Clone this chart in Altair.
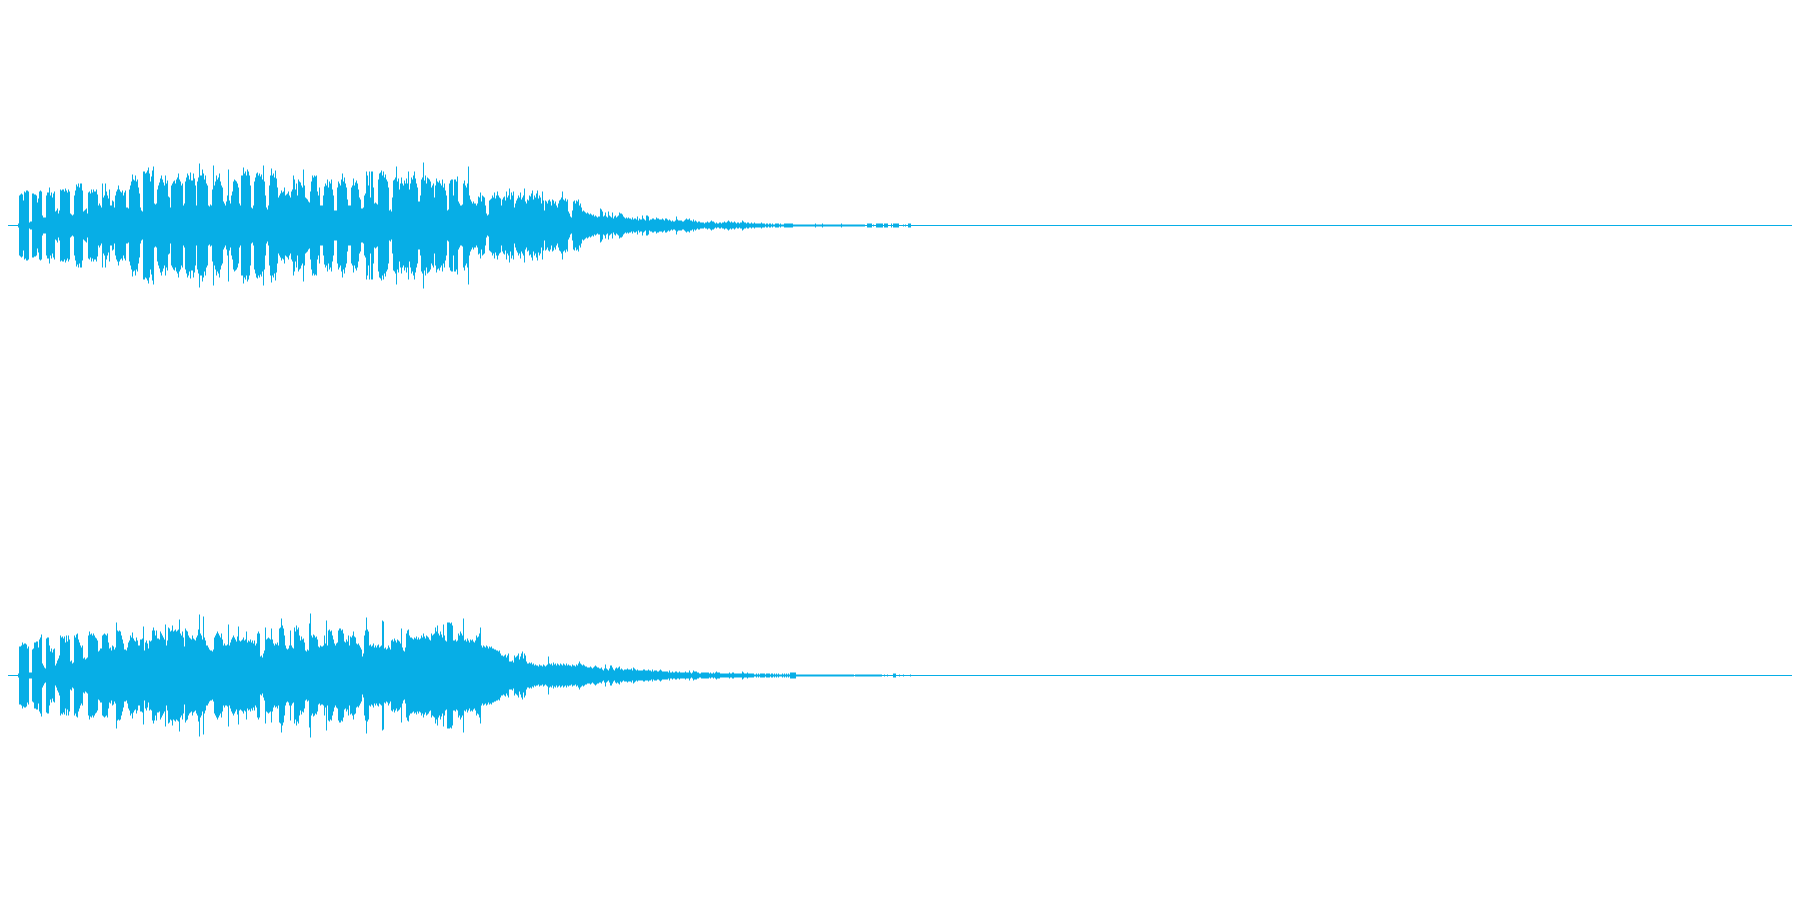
import altair as alt
import pandas as pd

COLOR = "#07aee6"
LINE_FROM = 0
LINE_TO = 1800

# Half-height of the waveform per pixel column, in sections: (first column, values)
CH1 = [
 (18, [2,30,31,32,31,25,34,33,35,35,34,3,4,4,32,32,31,31,30,23,27,34,35,34,10,8,8,8,30,33,33,38,30,33,28,32,34,14,15,17,12,15]),
 (60, [36,35,36,36,34,37,35,33,36,34,12,11,10,11,30,35,41,39,42,38,42,42,35,14,15,16,17,12,33,34,32,36,33,36,34,34,36,31,20,22,20,18]),
 (102, [42,28,30,42,34,30,27,36,20,20,25,24,18,30,34,36,40,36,34,33,35,30,33,35,18,18,17,36,40,44,51,46,45,50,44,46,38,32,18,15,14]),
 (143, [54,54,52,53,55,58,52,44,49,55,59,22,21,22,36,40,43,47,50,46,43,40,50,42,45,29,28,18,40,42,44,45,42,46,48,52,46,44,40,42,20,22]),
 (185, [44,48,52,50,46,53,45,45,52,47,40,20]),
 (197, [44,48,62,50,50,56,52,46,50,42,40,20,19,21,20,36,60,40,44,50,46,48,52,44,40,38,24,22,20,24,30,56,25,22,30,34,44,46,45,44,42,38,22,20]),
 (241, [50,50,58,52,54,50,56,54,50,40,18,17,20,44,48,52,53,50,52,49,51,46,60,44,30,18,16,20,40,50,57,50,52,48,55,47,38,28]),
 (279, [30,32,35,33,34,38,30,31,32,34,30,28,34,36,50,46,36,42,30,46,44]),
 (300, [43,40,38,56,40,28,27,26,24,23,34,44,50,48,50,49,50,34,30,38,20,20,20,30,39,42,40,46,38,44,42,46,36,30,15,15,15]),
 (337, [38,44,42,40,46,52,44,48,42,38,26,20,20,20,38,40,47,40,43,45,42,36,28,26,17,17,18,30,32,54,50,40,54,28,54,54,38,22,23,22,21]),
 (378, [46,52,53,55,50,54,48,51,46,44,38,15,16,14,28,45,46,48,59,44,47,36,42,48,42]),
 (403, [40,45,42,47,42,54,36,42,48,46,50,54,47,42,38,24,24,30,46,48,63,45,50,42,48,47,46,44,38]),
 (432, [40,42,28,40,47,44,43,45,42,40,46,38,42,35,30,15,16,42,45,46,46,30,46,46,44,49,24,22,20,20,21,42,45,40,38,42,59]),
 (469, [30,26,24,22,24,22,22,20,22,29,28,33,24,30,29,28,20,12,10,11,25,26,27,30,28,33,27,30,34,30,28,27,20]),
 (502, [26,28,29,25,34,28,30,37,26,33,30,34,18,22,25,27,30,28,33,26,28,30,37,24,22,26]),
 (528, [25,30,29,32,35,26,30,28,32,35,27,30,28,22,34,25,15,25,24,22,25,26,24,20,26,25,22,24,20,18]),
 (558, [22,25,26,28,34,26,25,27,24,26,14,12,9,8,15,24,25,22,25,24,26,20,22,18,14]),
 (583, [15,14,13,12,13,12,11,12,11,10,11,9,10,9,8,9,9]),
 (600, [17,16,14,9,10,13,9,8,14,10,9,8,13,7,9,10,8,9,10,13,12,12,11,9,8,7,8,7,8,7,7,6,8,6,7,7,6,9,5,7,6]),
 (641, [6,10,7,6,5,10,10,9,5,6,6,7,7,6,6,8,7,7,6,6,6,7,6,5,7,7,6,5,6,5,4,5,4,4,5,9,6,5,5,5]),
 (681, [5,4,4,5,6,7,6,6,7,5,5,4,6,4,5,4,3,4,4,3,3,3,3,2,3,3,4,3,3,4,5,4,4,3,2,3,2,2,3,3]),
 (721, [2,3,3,4,3,3,4,5,4,3,4,3,3,4,3,2,3,3,2,3,3,5,4,3,3,2,3,3,2,2,3,2,2,3,2,2,2,2,2,2]),
 (761, [3,2,2,2,1,2,2,1,2,2,1,2,1,1,2,2,2,2,1,2,1,1,1,2,2,2,2,2,2,2,2,2,1,1,1,1,1,1,1,1]),
 (801, [1,1,1,1,1,1,1,1,1,1,1,1,1,1,2,1,1,1,1,1,1,2,1,1,1,1,1,1,1,1,1,1,1,1,1,1,1,1,1,1,2,1,1,1,1,1,1,1,1,1,1,1,1,1,1,1,1,1,1,1,1,1,1,1,0,0]),
 (867, [2,2,2,2,2,0,1,0,0,2,2,2,2,2,2,2,0,2,2,2,2,0,0,0,2,0,2,2,2,2,2,2,0,0,0,0,1,0,1,0,0,2,2,2]),
]

CH2 = [
 (18, [2,29,29,30,33,31,32,32,31,27,29,3,3,3,26,27,33,33,34,34,28,36,38,41,12,10,8,7,37,38,38,30,24,27,23,26,27,10,12,15,17,20]),
 (60, [40,38,39,37,39,33,40,34,40,36,14,15,12,13,40,38,41,42,36,33,30,28,30,17,18,16,17,18,40,44,41,42,40,42,40,38,37,35,24,25,27,27]),
 (102, [40,41,42,41,40,42,33,27,28,25,30,29,26,28,53,45,44,45,44,40,36,32,26,26,25,28,33]),
 (129, [35,40,38,43,37,35,34,38,35,30,30,36,36,37,49,25,33,35,32,27,35,34,35,45,48,45,40,45,37,37,36,44,42,40,38,36,51,30,35,48,47,44,45,50]),
 (173, [44,45,46,44,45,46,56,42,40,44,38,29,47,45,44,40,38,37,36,40,37,36,35,38,40,46,61,42,40,36,59,38,35,30]),
 (207, [30,28,26,25,25,24,26,38,40,42,44,42,40,38,42,36,30,32,30,30,31,51,30,33,36,38,40,38,36,34,39,49,35,34]),
 (241, [35,36,38,35,36,44,33,35,34,36,33,35,32,35,30,32,42,44,42,19,20,18,22,25,48,36,37,38,37,36,47,36,32,30,32,31,33,30]),
 (279, [47,48,57,50,47,40,30,27,26,27,30,45,30,28,27,48,44,50,46,48,40]),
 (300, [35,39,36,37,33,25,24,26,25,52,62,40,38,41,40,38,39,36,29,28,30,29,29,30,40,32,55,30,45,46,44,45,40,36,32,30,32,33]),
 (338, [45,47,47,45,46,42,34,33,36,34,40,30,39,38,40,44,39,38,32,31,32,30,28,26,19,22,40,45,58,46,44,42]),
 (369, [30,31,29,30,32,28,30,28,30,31,28,29,30,55,54,27,28,26,27,30,28,26]),
 (391, [35,36,34,37,35,33,36,35,34,32,47,28,25,24,28,42,45,46,40,38,38,37,36,38,37,39,36,38,36,37]),
 (421, [40,38,42,39,37,40,39,38,36,35,42,40,41,42,48,44,50,42,40,44,41,38,51,40,35,34,53,53,53,52,53,50,35,35,36,34,35]),
 (458, [42,40,44,42,40,57,35,36,34,37,35,33,36,35,36,34,33,35,40,38,39,42,48,30,28,30]),
 (484, [29,28,30,29,27,29,28,29,27,27,26,26,25,25,24,25,22,20,20,19,20,21,18,20,22,14,14,14,15,13,20,18,19]),
 (517, [20,22,16,19,22,24,17,22,20,14,12,12,13,12,13,11,12,10,11,10,10,9,11,10,10,9,11,10,9,10,11,19]),
 (549, [12,11,12,10,13,11,12,10,12,11,10,12,11,10,12,11,10,12,10,11,10,10,9,11,10,10,9,11,10,12,14,12,11,10,11,10,9,9]),
 (587, [8,8,8,9,8,7,8,9,10,9,8,8,7]),
 (600, [7,8,6,5,7,11,7,6,5,7,10,10,8,6,5,7,8,7,8,9,6,7,6,5,6,6,6,7,6,6,6,7,5,8,7,6,5,6,5,5,5]),
 (641, [5,5,6,6,5,5,5,6,5,5,4,6,4,5,5,5,4,4,5,6,5,4,4,4,4,4,4,3,5,3,3,4,3,3,4,4,3,3,4,3]),
 (681, [3,3,3,3,4,3,3,3,5,3,2,3,5,4,4,4,3,3,2,2,3,3,3,3,3,3,3,3,2,3,2,2,3,2,3,4,3,3,3,2]),
 (721, [2,2,2,2,2,2,2,2,3,2,2,3,3,2,2,2,2,2,2,2,2,4,3,2,2,2,3,2,2,2,2,2,2,1,1,2,1,2,1,2]),
 (761, [2,2,2,2,1,2,2,2,2,1,2,2,1,2,1,2,1,2,1,1,1,2,1,2,1,2,1,2,1,3,3,3,3,3,3]),
 (796, [1,1,1,1,1,1,1,1,1,1,1,1,1,1,1,1,1,1,1,1,1,1,1,1,1,1,1,1,1,1,1,1,1,1,1,1,1,1,1,1,1,1,1,1,1,1,1,1,1,1,1,1,1,1,1,1,1,1,0,1,1,1,1,1,1,1,1,1,1,1,1,1,1,1,1,1,1,1,1,1,1,1,1,1,1,1,0,0,1,0,0,1,0,0,0,0,0,2,2,2,0,0,0,1,0,0,0,1,0,0,0,0,0,0,1,0,0]),
]


def table(sections):
    rows = {}
    for first, values in sections:
        for i, value in enumerate(values):
            rows[first + i] = value
    cols = sorted(rows)
    return pd.DataFrame({
        "x": [c + 0.5 for c in cols],
        "top": [rows[c] for c in cols],
        "bottom": [-rows[c] for c in cols],
    })


def panel(sections, y_max, y_min):
    xscale = alt.Scale(domain=[8, 1792], range=[0, 1784], nice=False, zero=False)
    yscale = alt.Scale(domain=[y_min, y_max], nice=False, zero=False)
    base = alt.Chart(table(sections)).mark_rule(color=COLOR, strokeWidth=1, clip=True).encode(
        x=alt.X("x:Q", scale=xscale, axis=None),
        y=alt.Y("top:Q", scale=yscale, axis=None),
        y2="bottom:Q",
    )
    centre = alt.Chart(pd.DataFrame({"a": [LINE_FROM], "b": [LINE_TO], "y": [0]})).mark_rule(
        color=COLOR, strokeWidth=1, clip=True
    ).encode(
        x=alt.X("a:Q", scale=xscale, axis=None),
        x2="b:Q",
        y=alt.Y("y:Q", scale=yscale, axis=None),
    )
    return alt.layer(centre, base).properties(width=1784, height=442)


chart = alt.vconcat(
    panel(CH1, 217.5, -224.5),
    panel(CH2, 225.5, -216.5),
    spacing=0,
    padding=0,
    background="white",
).configure_view(stroke=None)

chart.save("out.html", embed_options={"renderer": "svg", "actions": False})
